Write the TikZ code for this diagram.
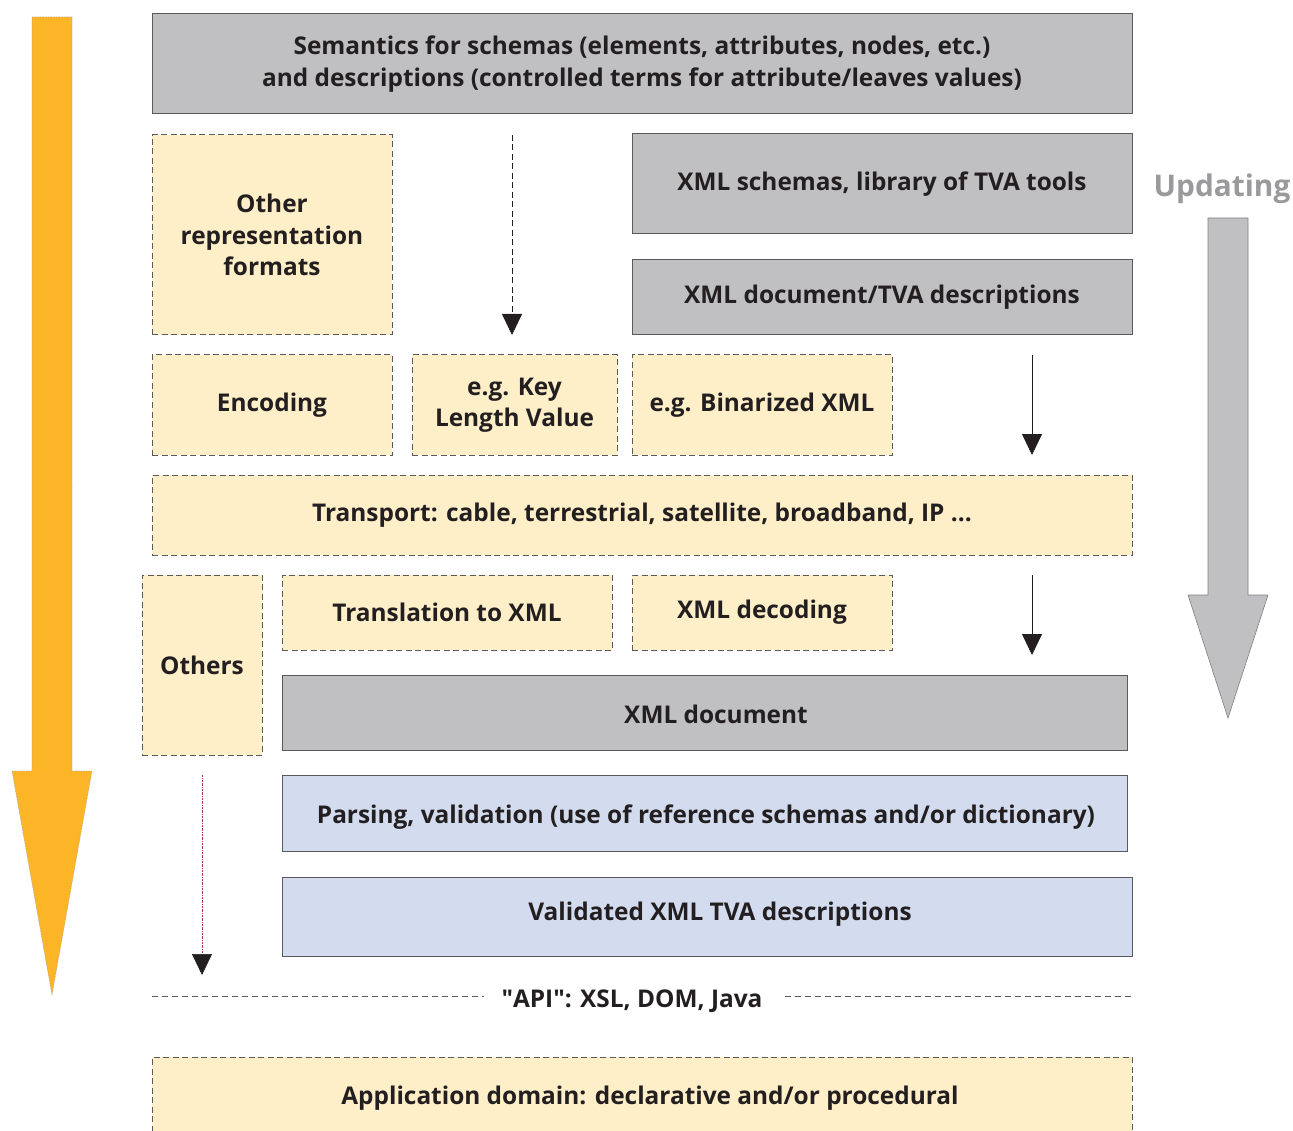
\documentclass[tikz,border=0pt]{standalone}
\usepackage{fontspec}
\setmainfont{Open Sans}
\newfontfamily\rawquote{Open Sans}[Ligatures=TeXOff]
\usetikzlibrary{arrows.meta}
\definecolor{boxgray}{HTML}{C0C0C2}
\definecolor{cream}{HTML}{FEEFC8}
\definecolor{paleblue}{HTML}{D3DCEE}
\definecolor{edgegray}{HTML}{5A5A5C}
\definecolor{inkdark}{HTML}{231F20}
\definecolor{amber}{HTML}{FBB527}
\definecolor{labelgray}{HTML}{9A9A9C}
\definecolor{crimson}{HTML}{B0325A}
\begin{document}
\begin{tikzpicture}[x=1pt,y=-1pt,
  every node/.style={font=\fontsize{24.4}{31.5}\selectfont\bfseries, text=inkdark, align=center},
  base/.style={inner sep=0pt, outer sep=0pt, line width=1pt},
  solidbox/.style={base, draw=edgegray, fill=boxgray},
  dashbox/.style={base, draw=edgegray, fill=cream, line width=1pt, dash pattern=on 6pt off 3.5pt},
  bluebox/.style={base, draw=edgegray, fill=paleblue},
  apidash/.style={edgegray, line width=0.9pt, dash pattern=on 6pt off 4pt},
  tip/.style={-{Triangle[width=20pt,length=21pt,color=inkdark]}, line width=0.8pt, inkdark}
]
\useasboundingbox (0,0) rectangle (1293,1131);

% left process arrow
\draw[fill=amber, draw=gray!70, line width=0.6pt, densely dotted]
  (32,17) -- (72,17) -- (72,771) -- (92,771) -- (52,995) -- (12,771) -- (32,771) -- cycle;

% updating arrow
\node[font=\fontsize{29.8}{32}\selectfont\bfseries, text=labelgray] (upd) at (1222,189) {Updating};
\draw[fill=boxgray, draw=gray, line width=0.6pt]
  (1208,218) -- (1248,218) -- (1248,595) -- (1268,595) -- (1228,718) -- (1188,595) -- (1208,595) -- cycle;

% layers
\node[solidbox, minimum width=980pt, minimum height=100pt] (sem) at (642,64)
  {Semantics for schemas (elements, attributes, nodes, etc.)\\and descriptions (controlled terms for attribute/leaves values)};
\node[dashbox, minimum width=240pt, minimum height=200pt] (orf) at (272,235)
  {Other\\representation\\formats};
\node[solidbox, minimum width=500pt, minimum height=100pt] (xsch) at (882,184)
  {XML schemas, library of TVA tools};
\node[solidbox, minimum width=500pt, minimum height=75pt] (xdesc) at (882,297.5)
  {XML document/TVA descriptions};
\node[dashbox, minimum width=240pt, minimum height=100pt] (enc) at (272,405) {Encoding};
\node[dashbox, minimum width=205pt, minimum height=100pt] (klv) at (514.5,405) {e.g. Key\\Length Value};
\node[dashbox, minimum width=260pt, minimum height=100pt] (bin) at (762,405) {e.g. Binarized XML};
\node[dashbox, minimum width=980pt, minimum height=80pt] (tr) at (642,515)
  {Transport: cable, terrestrial, satellite, broadband, IP ...};
\node[dashbox, minimum width=120pt, minimum height=180pt] (oth) at (202,665) {Others};
\node[dashbox, minimum width=330pt, minimum height=75pt] (trx) at (447,612.5) {Translation to XML};
\node[dashbox, minimum width=260pt, minimum height=75pt] (xdec) at (762,612.5) {XML decoding};
\node[solidbox, minimum width=845pt, minimum height=75pt] (xdoc) at (704.5,712.5) {};
\node[anchor=base] (xdoctext) at (716,723) {XML document};
\node[bluebox, minimum width=845pt, minimum height=76pt] (pars) at (704.5,813) {};
\node[anchor=base] (parstext) at (706,823)
  {Parsing, validation (use of reference schemas and/or dictionary)};
\node[bluebox, minimum width=850pt, minimum height=79pt] (valid) at (707,916.5) {};
\node[anchor=base] (validtext) at (720,920) {Validated XML TVA descriptions};
\node[dashbox, minimum width=980pt, minimum height=90pt] (app) at (642,1102) {};
\node[anchor=base] (apptext) at (650,1104) {Application domain: declarative and/or procedural};

% API separator
\node[inner sep=0pt, anchor=base] (api) at (632,1007) {{\rawquote"}API{\rawquote"}: XSL, DOM, Java};
\coordinate (apiL) at (152,996);
\coordinate (apiR) at (1132,996);
\draw[apidash] (apiL) -- ([xshift=-17pt]apiL -| api.west);
\draw[apidash] ([xshift=22pt]apiR -| api.east) -- (apiR);

% flow arrows
\coordinate (semfoot) at (512,135);
\draw[tip, dash pattern=on 6pt off 3.5pt] (semfoot) -- ([yshift=20pt]semfoot |- klv.north);
\coordinate (descfoot) at (1032,355);
\draw[tip] (descfoot) -- ([yshift=20pt]descfoot |- tr.north);
\coordinate (trfoot) at (1032,575);
\draw[tip] (trfoot) -- ([yshift=20pt]trfoot |- xdoc.north);
\coordinate (othend) at (202,975);
\draw[crimson, line width=0.6pt, dash pattern=on 2pt off 1pt on 0.5pt off 1pt,
  -{Triangle[width=20pt,length=21pt,color=inkdark]}] ([yshift=-20pt]oth.south) -- (othend);
\end{tikzpicture}
\end{document}
